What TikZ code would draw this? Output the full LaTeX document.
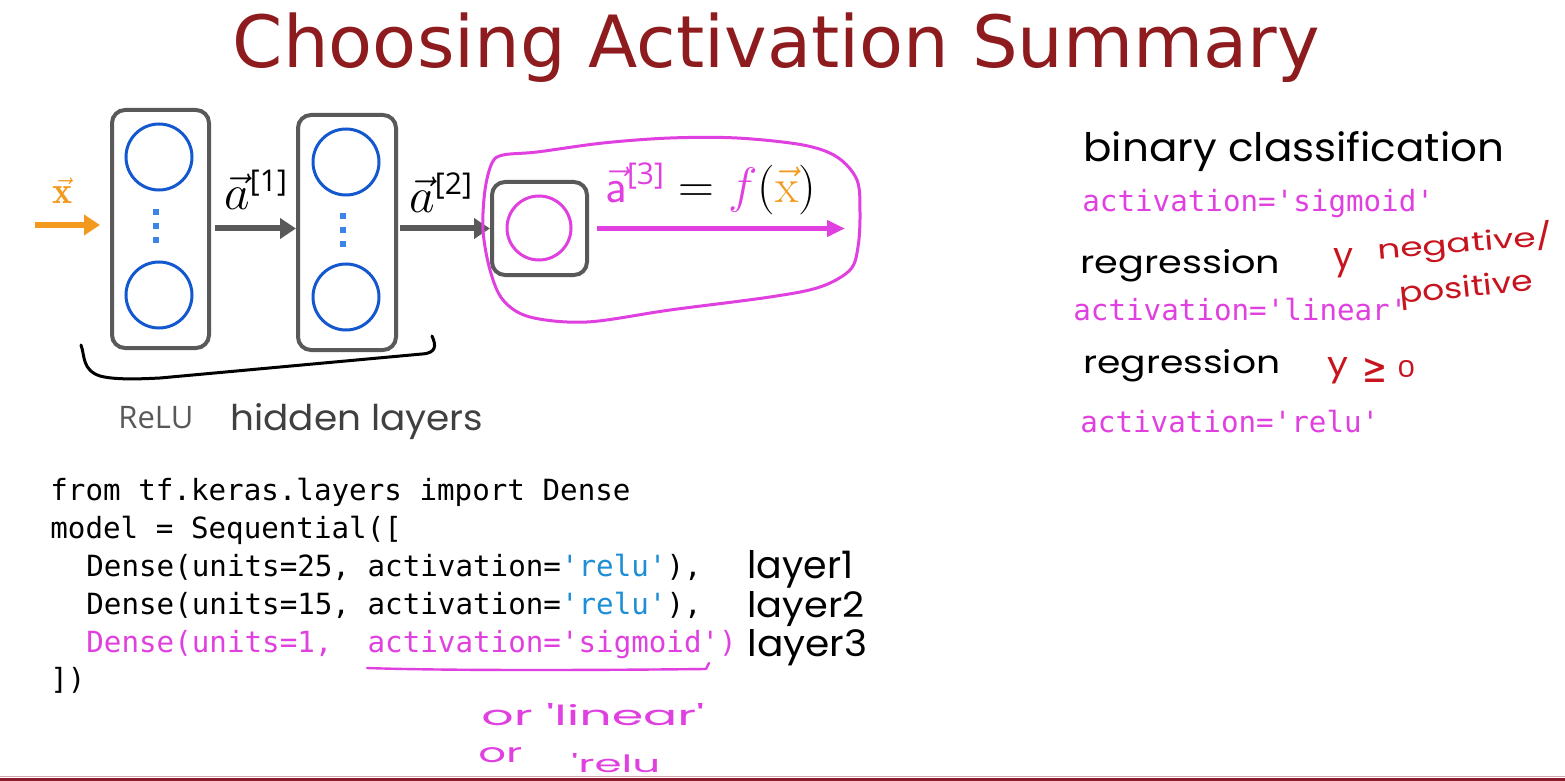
\documentclass[tikz,border=0pt]{standalone}
\usepackage{fontspec}
\usepackage{graphicx}
\usetikzlibrary{arrows.meta}
\newfontfamily\titlefont{DejaVu Sans}
\newfontfamily\codefont[Ligatures=TeXOff]{DejaVu Sans Mono}
\newfontfamily\handfont[Ligatures=TeXOff]{Poppins}
\newfontfamily\relufont{Open Sans}
\newfontfamily\symfont{DejaVu Sans}
\newdimen\px \px=0.5pt
\newcommand\hw[3]{\resizebox{#1\px}{#2\px}{\handfont #3}}
\newcommand\supbr[2]{\mbox{\relufont\fontsize{#1}{#1}\selectfont #2}}
\definecolor{titlered}{HTML}{8E1B1E}
\definecolor{pinkc}{HTML}{E040E0}
\definecolor{xorange}{HTML}{F39A1E}
\definecolor{boxgray}{HTML}{595959}
\definecolor{circblue}{HTML}{1458D0}
\definecolor{dotblue}{HTML}{3C84E8}
\definecolor{relublue}{HTML}{1E8FD6}
\definecolor{hred}{HTML}{C8141E}
\definecolor{hgray}{HTML}{404040}
\definecolor{botred}{HTML}{8B1A2A}
\begin{document}
\begin{tikzpicture}[x=0.5pt,y=-0.5pt,
  layerbox/.style={draw=boxgray, line width=2pt, rounded corners=6.5pt, inner sep=0pt},
  neuron/.style={circle, draw=circblue, line width=1.5pt, minimum size=33pt, inner sep=0pt},
  outneuron/.style={circle, draw=pinkc, line width=1.5pt, minimum size=32pt, inner sep=0pt},
  vdot/.style={fill=dotblue, minimum size=3pt, inner sep=0pt},
  garrow/.style={draw=boxgray, line width=3pt, -{Triangle[length=8pt,width=10pt]}},
  oarrow/.style={draw=xorange, line width=3pt, -{Triangle[length=8pt,width=10pt]}},
  parrow/.style={draw=pinkc, line width=2.5pt, -{Triangle[length=9pt,width=8pt]}},
  codeline/.style={font=\codefont\fontsize{14.6}{14.6}\selectfont, anchor=base west, inner sep=0pt},
  rcode/.style={codeline, text=pinkc},
  hand/.style={anchor=base west, inner sep=0pt},
  mathlbl/.style={font=\fontsize{24}{24}\selectfont, anchor=base west, inner sep=0pt},
]
\useasboundingbox (0,0) rectangle (1565,781);
\fill[white] (0,0) rectangle (1565,781);
% bottom rule
\draw[draw=botred!40, line width=0.5pt] (0,776.5) -- (1565,776.5);
\draw[draw=botred, line width=1.5pt] (0,779.5) -- (1565,779.5);

% title
\node[font=\titlefont\fontsize{36}{36}\selectfont, text=titlered, anchor=base, inner sep=0pt] (title) at (776.5,68) {Choosing Activation Summary};

% layer boxes
\node[layerbox, minimum width=48.5pt, minimum height=119pt] (box1) at (160.5,229) {};
\node[layerbox, minimum width=49pt, minimum height=117.5pt] (box2) at (347,232.5) {};
\node[layerbox, minimum width=47.5pt, minimum height=46.5pt] (box3) at (539.5,228.5) {};

\node[neuron] (c11) at (159,157) {};
\node[neuron] (c12) at (159,295) {};
\node[neuron] (c21) at (346,162) {};
\node[neuron] (c22) at (346,297) {};
\node[outneuron] (c3) at (539,228) {};

\node[vdot] (d11) at (156,212) {};
\node[vdot] (d12) at (156,226) {};
\node[vdot] (d13) at (156,240) {};
\node[vdot] (d21) at (343,216) {};
\node[vdot] (d22) at (343,230) {};
\node[vdot] (d23) at (343,244) {};

% connectors
\coordinate (xin) at (35,225);
\coordinate (yout) at (845,228.5);
\draw[oarrow, shorten >=5pt] (xin) -- (xin -| box1.west);
\draw[garrow, shorten <=2pt] (box1.east |- box3.center) -- (box2.west |- box3.center);
\draw[garrow, shorten <=1pt] (box2.east |- box3.center) -- (box3.west);
\draw[parrow, shorten <=4pt] (box3.east) -- (yout);

% labels
\node[text=xorange, font=\fontsize{19}{19}\selectfont, anchor=base, inner sep=0pt] (xl) at (63,204) {$\vec{\mathbf{x}}$};
\node[mathlbl] (a1) at (224,210) {$\vec{a}^{\supbr{15}{[1]}}$};
\node[mathlbl] (a2) at (409,213) {$\vec{a}^{\supbr{15}{[2]}}$};
\node[mathlbl] (fx) at (605,203)
  {$\textcolor{pinkc}{\vec{\mathsf{a}}^{\supbr{15}{[3]}}} = \textcolor{pinkc}{f}(\textcolor{xorange}{\vec{\mathrm{x}}})$};

% pink freehand loop
\draw[pinkc, line width=1.5pt] plot[smooth cycle, tension=0.55] coordinates {(503,155) (537,152) (603,143) (670,138) (737,138) (803,145) (837,157) (857,180) (860,213) (858,247) (850,270) (820,287) (770,297) (670,310) (587,322) (530,317) (503,300) (490,270) (483,230) (485,190) (492,163)};

% brace under hidden layers
\draw[black, line width=1.5pt, line cap=round, line join=round] (81,345) .. controls (85,356) and (82,370) .. (100,376) .. controls (115,380) and (140,379) .. (160,378) -- (422,354) .. controls (437,353) and (436,345) .. (432,336);

\node[font=\relufont\fontsize{15.5}{15.5}\selectfont, text=boxgray, anchor=base west, inner sep=0pt] (relu) at (118,428) {ReLU};
\node[hand, text=hgray] (hid) at (230,430) {\hw{253}{27}{hidden layers}};

% code
\node[codeline] (code1) at (50,500) {from tf.keras.layers import Dense};
\node[codeline] (code2) at (50,538) {model = Sequential([};
\node[codeline] (code3) at (86,576) {Dense(units=25, activation=\textcolor{relublue}{'relu'}),};
\node[codeline] (code4) at (86,614) {Dense(units=15, activation=\textcolor{relublue}{'relu'}),};
\node[rcode] (code5) at (86,652) {Dense(units=1,~~activation='sigmoid')};
\node[codeline] (code6) at (50,689) {])};
\draw[pinkc, line width=1.2pt, line cap=round, line join=round] (367,668) .. controls (450,671) and (620,670) .. (706,669) -- (709,663);

\node[hand] (l1) at (747,578) {\hw{106}{28}{layer1}};
\node[hand] (l2) at (747,617) {\hw{117}{26}{layer2}};
\node[hand] (l3) at (747,656) {\hw{120}{27}{layer3}};
\node[hand, text=pinkc] (or1) at (481,725) {\hw{223}{22}{or 'linear'}};
\node[hand, text=pinkc] (or2) at (478,762) {\hw{44}{15}{or}};
\node[hand, text=pinkc] (or3) at (571,772) {\hw{89}{19}{'relu}};

% right column
\node[hand] (bc) at (1083,162) {\hw{421}{30}{binary classification}};
\node[rcode] (s1) at (1082,212) {activation='sigmoid'};
\node[hand] (rg1) at (1080,273) {\hw{200}{24}{regression}};
\node[hand, text=hred] (negy) at (1333,268) {\hw{20}{20}{y}};
\node[hand, text=hred, rotate=5] (neg) at (1378,260) {\hw{176}{25}{negative/}};
\node[hand, text=hred, rotate=6] (pos) at (1400,304) {\hw{134}{22}{positive}};
\node[rcode] (s2) at (1073,320) {activation='linear'};
\node[hand] (rg2) at (1083,373) {\hw{197}{24}{regression}};
\node[hand, text=hred] (ry) at (1327,375) {\hw{21}{18}{y}};
\node[anchor=base west, inner sep=0pt, text=hred] (rge) at (1362,382) {\resizebox{25\px}{24\px}{\symfont ≥}};
\node[hand, text=hred] (rz) at (1397,377) {\hw{18}{17}{0}};
\node[rcode] (s3) at (1080,432) {activation='relu'};
\end{tikzpicture}
\end{document}
